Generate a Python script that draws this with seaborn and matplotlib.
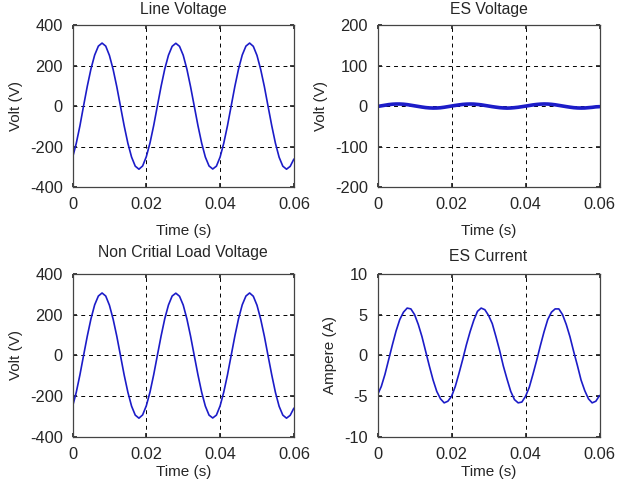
import numpy as np
import pandas as pd
import seaborn as sns
import matplotlib.pyplot as plt

# time base (s), one sample per millisecond
time_s = [k / 1000 for k in range(61)]

line_voltage = [-255, -185, -98, 2, 98, 184, 252, 296, 311, 296,
                250, 181, 95, -2, -98, -184, -252, -297, -312, -296,
                -250, -182, -96, 1, 97, 183, 251, 295, 310, 295,
                251, 182, 95, -1, -97, -183, -252, -296, -311, -297,
                -252, -183, -97, 0, 97, 183, 252, 296, 311, 295,
                250, 181, 96, -1, -97, -184, -253, -297, -312, -298,
                -262]

es_voltage = [-1, 0.5, 2, 3.5, 4.5, 5, 5, 4.5, 3.5, 2,
              0.5, -1, -2.5, -3.8, -4.6, -5, -4.8, -4.2, -3, -1.5,
              0, 1.5, 2.8, 4, 4.7, 5, 4.8, 4, 3, 1.5,
              0, -1.5, -2.8, -4, -4.7, -5.1, -4.8, -4, -3, -1.6,
              -0.2, 1.3, 2.8, 3.9, 4.7, 5.1, 4.9, 4.2, 3.1, 1.6,
              0.1, -1.4, -2.8, -4, -4.7, -5, -4.8, -4, -3.2, -2,
              -1.5]

load_voltage = [-250, -181, -95, 1, 95, 180, 248, 291, 306, 291,
                246, 178, 94, -1, -96, -180, -248, -292, -307, -291,
                -246, -179, -94, 1, 95, 180, 247, 291, 305, 290,
                247, 179, 94, -1, -95, -180, -248, -292, -306, -292,
                -247, -179, -95, 0, 95, 180, 248, 291, 306, 290,
                246, 178, 94, -1, -95, -181, -249, -292, -307, -293,
                -258]

es_current = [-4.8, -3.8, -2.3, -0.5, 1.3, 3.0, 4.4, 5.3, 5.8, 5.7,
              5.0, 3.8, 2.3, 0.5, -1.3, -3.0, -4.4, -5.3, -5.8, -5.6,
              -5.0, -3.8, -2.2, -0.5, 1.3, 2.9, 4.3, 5.4, 5.8, 5.6,
              4.9, 3.9, 2.3, 0.6, -1.3, -2.9, -4.4, -5.4, -5.8, -5.7,
              -5.0, -3.9, -2.3, -0.6, 1.2, 2.9, 4.4, 5.3, 5.7, 5.7,
              5.0, 3.8, 2.3, 0.5, -1.2, -3.0, -4.3, -5.3, -5.8, -5.6,
              -4.9]

xticks = [0, 0.02, 0.04, 0.06]
xticklabels = ["0", "0.02", "0.04", "0.06"]

sns.set_theme(style="white")
plt.rcParams['font.family'] = ['Liberation Sans', 'DejaVu Sans']

fig = plt.figure(figsize=(6.2, 4.82), dpi=100)

# title, ylabel, values, yticks, line width, axes rect, title pad, xlabel pad
panels = [
    ("Line Voltage", "Volt (V)", line_voltage, [-400, -200, 0, 200, 400], 1.2,
     [0.117, 0.612, 0.357, 0.336], 8, 9),
    ("ES Voltage", "Volt (V)", es_voltage, [-200, -100, 0, 100, 200], 2.6,
     [0.609, 0.612, 0.358, 0.336], 8, 9),
    ("Non Critial Load Voltage", "Volt (V)", load_voltage, [-400, -200, 0, 200, 400], 1.2,
     [0.117, 0.093, 0.357, 0.339], 12, 2),
    ("ES Current", "Ampere (A)", es_current, [-10, -5, 0, 5, 10], 1.2,
     [0.609, 0.093, 0.358, 0.339], 9, 2),
]

for title, ylab, vals, yt, lw, pos, tpad, xpad in panels:
    ax = fig.add_axes(pos)
    df = pd.DataFrame({"t": time_s, "v": vals})
    sns.lineplot(data=df, x="t", y="v", ax=ax, color="#1c1cc8", linewidth=lw)
    ax.set_xlim(0, 0.06)
    ax.set_ylim(yt[0], yt[-1])
    ax.set_xticks(xticks)
    ax.set_xticklabels(xticklabels)
    ax.set_yticks(yt)
    ax.set_yticklabels([str(v) for v in yt])
    ax.set_title(title, fontsize=11.3, pad=tpad)
    ax.set_xlabel("Time (s)", fontsize=11, labelpad=xpad)
    ax.set_ylabel(ylab, fontsize=11, labelpad=5)
    ax.tick_params(labelsize=11.8, direction="in", length=3, top=True, right=True,
                   bottom=True, left=True, pad=7)
    ax.grid(True, color="black", linestyle=(0, (4, 4)), linewidth=0.7)
    for s in ax.spines.values():
        s.set_color("#444444")
        s.set_linewidth(0.9)

fig.savefig("out.png", dpi=100)
